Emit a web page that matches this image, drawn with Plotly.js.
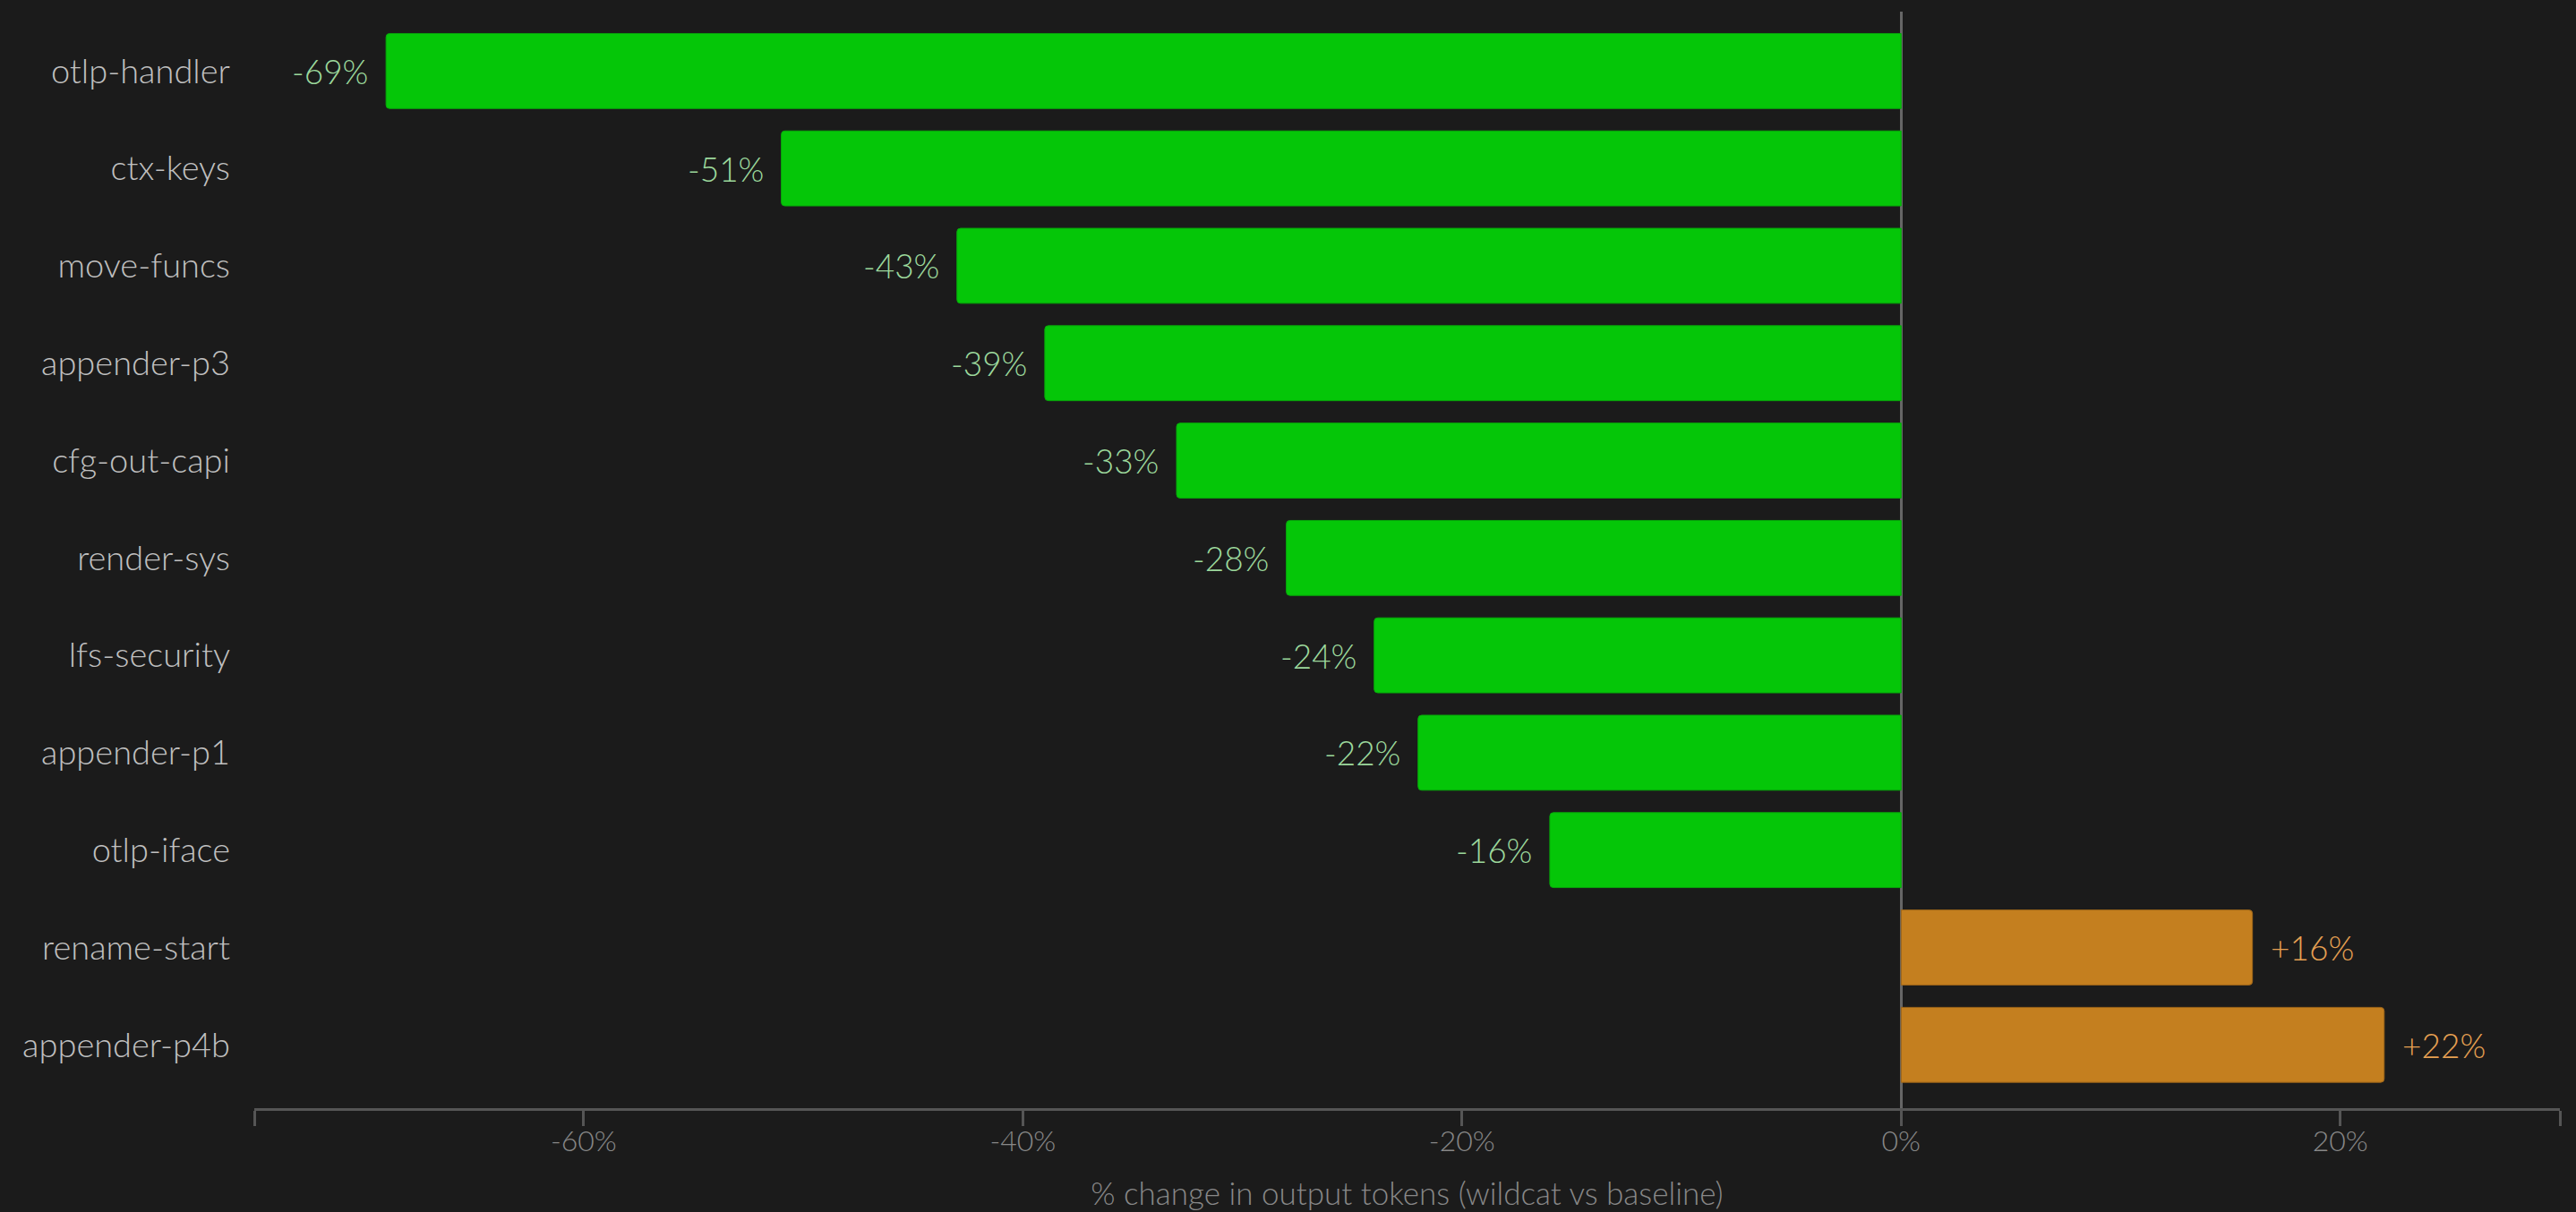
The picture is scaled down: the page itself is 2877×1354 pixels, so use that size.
<!DOCTYPE html>
<html>
<head>
<meta charset="utf-8">
<script src="https://cdn.plot.ly/plotly-3.0.1.min.js"></script>
<style>html,body{margin:0;padding:0;background:#1b1b1b;}#chart{width:2877px;height:1354px;}</style>
</head>
<body>
<div id="chart"></div>
<script>
const categories = ["otlp-handler","ctx-keys","move-funcs","appender-p3","cfg-out-capi","render-sys","lfs-security","appender-p1","otlp-iface","rename-start","appender-p4b"];
const values = [-69,-51,-43,-39,-33,-28,-24,-22,-16,16,22];
const xTickVals = [-75,-60,-40,-20,0,20,30];
const xTickText = ["","-60%","-40%","-20%","0%","20%",""];

const GREEN = "#05c608", ORANGE = "#c47f1f";
const GREEN_TXT = "#9cd89c", ORANGE_TXT = "#e6a052";
const FONT = "'Lato Light', Lato, 'Open Sans', sans-serif";

const barColors = values.map(v => v < 0 ? GREEN : ORANGE);
const lineColors = values.map(v => v < 0 ? "#07a80a" : "#9c6418");

const trace = {
  type: "bar",
  orientation: "h",
  x: values,
  y: categories,
  marker: {color: barColors, cornerradius: 4, line: {color: lineColors, width: 1}},
  width: 0.77,
  hoverinfo: "skip"
};

const annotations = values.map((v, i) => ({
  x: v, y: categories[i], xref: "x", yref: "y",
  text: (v > 0 ? "+" : "") + v + "%",
  showarrow: false,
  xanchor: v < 0 ? "right" : "left",
  xshift: v < 0 ? -18 : 18,
  font: {family: FONT, size: 37, weight: 300, color: v < 0 ? GREEN_TXT : ORANGE_TXT}
}));

const layout = {
  width: 2877, height: 1354,
  paper_bgcolor: "#1b1b1b", plot_bgcolor: "#1b1b1b",
  margin: {l: 284, r: 18, t: 13, b: 116},
  showlegend: false,
  font: {family: FONT, weight: 300},
  xaxis: {
    range: [-75, 30],
    tickvals: xTickVals, ticktext: xTickText,
    showgrid: false,
    zeroline: true, zerolinecolor: "#666", zerolinewidth: 3,
    showline: true, linecolor: "#555", linewidth: 3,
    ticks: "outside", ticklen: 17, tickwidth: 3, tickcolor: "#555",
    ticklabelstandoff: -10,
    tickfont: {family: FONT, size: 32, weight: 300, color: "#888888"},
    title: {text: "% change in output tokens (wildcat vs baseline)", standoff: 30,
            font: {family: FONT, size: 35, weight: 300, color: "#888888"}},
    fixedrange: true
  },
  yaxis: {
    type: "category",
    categoryorder: "array", categoryarray: categories,
    range: [10.65, -0.61],
    showgrid: false, zeroline: false, showline: false,
    ticks: "", ticklabelstandoff: 26,
    tickfont: {family: FONT, size: 38, weight: 300, color: "#c0c0c0"},
    fixedrange: true
  },
  annotations: annotations
};

Plotly.newPlot("chart", [trace], layout, {displayModeBar: false, staticPlot: true});
</script>
</body>
</html>
